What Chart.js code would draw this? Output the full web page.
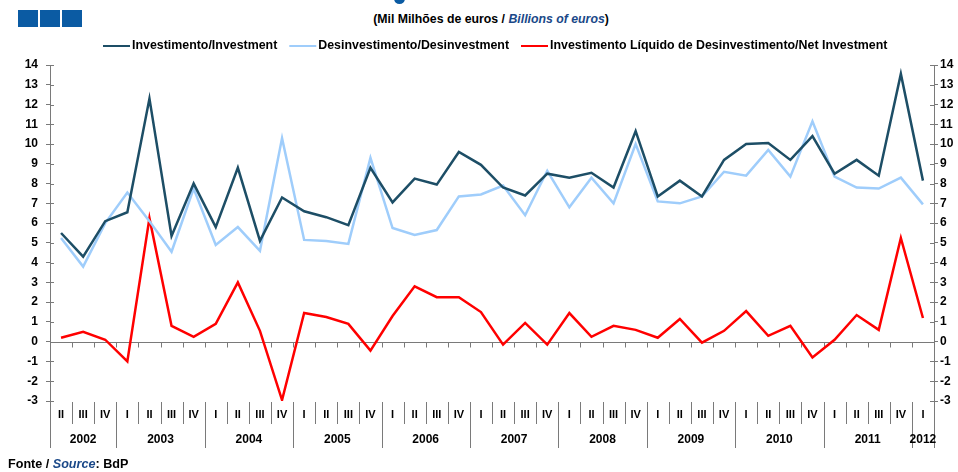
<!DOCTYPE html>
<html>
<head>
<meta charset="utf-8">
<script src="https://cdn.jsdelivr.net/npm/chart.js@4.4.1/dist/chart.umd.min.js"></script>
<style>
  body { margin: 0; background: #fff; font-family: "Liberation Sans", Arial, sans-serif; }
  #wrap { position: relative; width: 958px; height: 472px; overflow: hidden; }
  #c { position: absolute; left: 0; top: 0; }
  .sq { position: absolute; top: 10px; width: 20px; height: 17px; background: #0b5ba3; }
  .dot { position: absolute; left: 394px; top: -7px; width: 11px; height: 11px; border-radius: 50%; background: #0b5ba3; }
  #title { position: absolute; top: 12px; left: 0; width: 982px; text-align: center; font-weight: bold; font-size: 12.3px; color: #000; }
  #foot { position: absolute; left: 8px; top: 457px; font-weight: bold; font-size: 12.6px; color: #000; }
  .bl { color: #1a4888; font-style: italic; }
</style>
</head>
<body>
<div id="wrap">
  <div class="sq" style="left:18px"></div>
  <div class="sq" style="left:40px"></div>
  <div class="sq" style="left:62px"></div>
  <div class="dot"></div>
  <div id="title">(Mil Milhões de euros / <span class="bl">Billions of euros</span>)</div>
  <canvas id="c" width="966" height="472"></canvas>
  <div id="foot">Fonte / <span class="bl">Source</span>: BdP</div>
</div>
<script>
// quarters 2002 II .. 2012 I
var quarters = ['II','III','IV',
  'I','II','III','IV', 'I','II','III','IV', 'I','II','III','IV', 'I','II','III','IV',
  'I','II','III','IV', 'I','II','III','IV', 'I','II','III','IV', 'I','II','III','IV',
  'I','II','III','IV', 'I'];
var years = ['2002','2003','2004','2005','2006','2007','2008','2009','2010','2011','2012'];
var yearQuarters = [3,4,4,4,4,4,4,4,4,4,1];

var investment = [5.5,4.3,6.1,6.55,12.3,5.35,8.0,5.8,8.8,5.1,7.3,6.6,6.3,5.9,8.8,7.05,8.25,7.95,9.6,8.95,
  7.8,7.4,8.5,8.3,8.55,7.8,10.65,7.35,8.15,7.35,9.2,10.0,10.05,9.2,10.4,8.5,9.2,8.4,13.55,8.15];
var desinvestment = [5.25,3.8,6.0,7.55,6.1,4.55,7.75,4.9,5.8,4.6,10.3,5.15,5.1,4.95,9.3,5.75,5.4,5.65,7.35,7.45,
  7.9,6.4,8.65,6.8,8.3,7.0,10.0,7.1,7.0,7.35,8.6,8.4,9.7,8.35,11.15,8.35,7.8,7.75,8.3,6.95];
var netInvestment = [0.2,0.5,0.1,-1.0,6.25,0.8,0.25,0.9,3.0,0.55,-2.95,1.45,1.25,0.9,-0.45,1.3,2.8,2.25,2.25,1.5,
  -0.15,0.95,-0.15,1.45,0.25,0.8,0.6,0.2,1.15,-0.05,0.55,1.55,0.3,0.8,-0.8,0.1,1.35,0.6,5.25,1.2];

var seriesNames = ['Investimento/Investment','Desinvestimento/Desinvestment',
  'Investimento Líquido de Desinvestimento/Net Investment'];
var seriesColors = ['#1d4e66','#9fcdfb','#ff0000'];

var axisColor = '#7a7a7a';
var boldFont = 'bold 12px "Liberation Sans", Arial, sans-serif';

var extras = {
  id: 'extras',
  beforeDatasetsDraw: function(chart){
    var ctx = chart.ctx, x = chart.scales.x, y = chart.scales.y, a = chart.chartArea;
    var y0 = Math.round(y.getPixelForValue(0)) + 0.5;
    ctx.save();
    ctx.strokeStyle = axisColor; ctx.lineWidth = 1;
    ctx.beginPath();
    ctx.moveTo(a.left, y0); ctx.lineTo(a.right, y0);
    for (var i = 0; i < quarters.length - 1; i++) {
      var bx = Math.round((x.getPixelForValue(i) + x.getPixelForValue(i + 1)) / 2) + 0.5;
      ctx.moveTo(bx, y0); ctx.lineTo(bx, y0 + 5);
    }
    // inner halves of the value ticks
    for (var v = -3; v <= 14; v++) {
      var ty = Math.round(y.getPixelForValue(v)) + 0.5;
      ctx.moveTo(a.left, ty); ctx.lineTo(a.left + 4, ty);
      ctx.moveTo(a.right - 4, ty); ctx.lineTo(a.right, ty);
    }
    ctx.stroke();
    ctx.restore();
  },
  afterDraw: function(chart){
    var ctx = chart.ctx, x = chart.scales.x, a = chart.chartArea;
    ctx.save();
    // bottom separators
    ctx.strokeStyle = axisColor; ctx.lineWidth = 1;
    ctx.beginPath();
    var lx = Math.round(a.left) + 0.5, rx = Math.round(a.right) + 0.5;
    ctx.moveTo(lx, a.bottom); ctx.lineTo(lx, 448);
    ctx.moveTo(rx, a.bottom); ctx.lineTo(rx, 448);
    var ends = [], n = 0;
    for (var k = 0; k < yearQuarters.length; k++) { n += yearQuarters[k]; ends.push(n - 1); }
    for (var i = 0; i < quarters.length - 1; i++) {
      var bx = Math.round((x.getPixelForValue(i) + x.getPixelForValue(i + 1)) / 2) + 0.5;
      ctx.moveTo(bx, a.bottom + 1);
      ctx.lineTo(bx, ends.indexOf(i) >= 0 ? 448 : 424);
    }
    ctx.stroke();
    // quarter labels
    ctx.fillStyle = '#000';
    ctx.textAlign = 'center'; ctx.textBaseline = 'middle';
    ctx.font = 'bold 11px "Liberation Sans", Arial, sans-serif';
    quarters.forEach(function(q, i){ ctx.fillText(q, x.getPixelForValue(i), 415); });
    // year labels
    ctx.font = boldFont;
    var start = 0;
    years.forEach(function(yr, k){
      var end = start + yearQuarters[k] - 1;
      var cx = (x.getPixelForValue(start) + x.getPixelForValue(end)) / 2;
      ctx.fillText(yr, cx, 440);
      start = end + 1;
    });
    // legend
    ctx.textAlign = 'left';
    ctx.font = 'bold 12.4px "Liberation Sans", Arial, sans-serif';
    var px = 103, ly = 46;
    chart.data.datasets.forEach(function(ds){
      ctx.strokeStyle = ds.borderColor; ctx.lineWidth = 2;
      ctx.beginPath(); ctx.moveTo(px, ly); ctx.lineTo(px + 27, ly); ctx.stroke();
      px += 29;
      ctx.fillStyle = '#000';
      ctx.fillText(ds.label, px, ly);
      px += ctx.measureText(ds.label).width + 12;
    });
    ctx.restore();
  }
};

new Chart(document.getElementById('c'), {
  type: 'line',
  data: {
    labels: quarters,
    datasets: [
      { label: seriesNames[0], data: investment, borderColor: seriesColors[0], backgroundColor: seriesColors[0] },
      { label: seriesNames[1], data: desinvestment, borderColor: seriesColors[1], backgroundColor: seriesColors[1] },
      { label: seriesNames[2], data: netInvestment, borderColor: seriesColors[2], backgroundColor: seriesColors[2] }
    ]
  },
  options: {
    responsive: false,
    animation: false,
    devicePixelRatio: 1,
    layout: { padding: { top: 65, bottom: 71, left: 0, right: 0 } },
    elements: { point: { radius: 0 }, line: { borderWidth: 2.5, tension: 0 } },
    plugins: { legend: { display: false }, tooltip: { enabled: false } },
    scales: {
      x: { type: 'category', offset: true, display: false },
      y: {
        position: 'left', min: -3, max: 14,
        afterFit: function(s){ s.width = 50; },
        ticks: { stepSize: 1, color: '#000', font: { family: 'Liberation Sans', weight: 'bold', size: 12 }, padding: 8 },
        grid: { drawOnChartArea: false, tickLength: 4, color: axisColor },
        border: { color: axisColor }
      },
      y2: {
        position: 'right', min: -3, max: 14,
        afterFit: function(s){ s.width = 32; },
        ticks: { stepSize: 1, color: '#000', font: { family: 'Liberation Sans', weight: 'bold', size: 12 }, padding: 2 },
        grid: { drawOnChartArea: false, tickLength: 4, color: axisColor },
        border: { color: axisColor }
      }
    }
  },
  plugins: [extras]
});
</script>
</body>
</html>
